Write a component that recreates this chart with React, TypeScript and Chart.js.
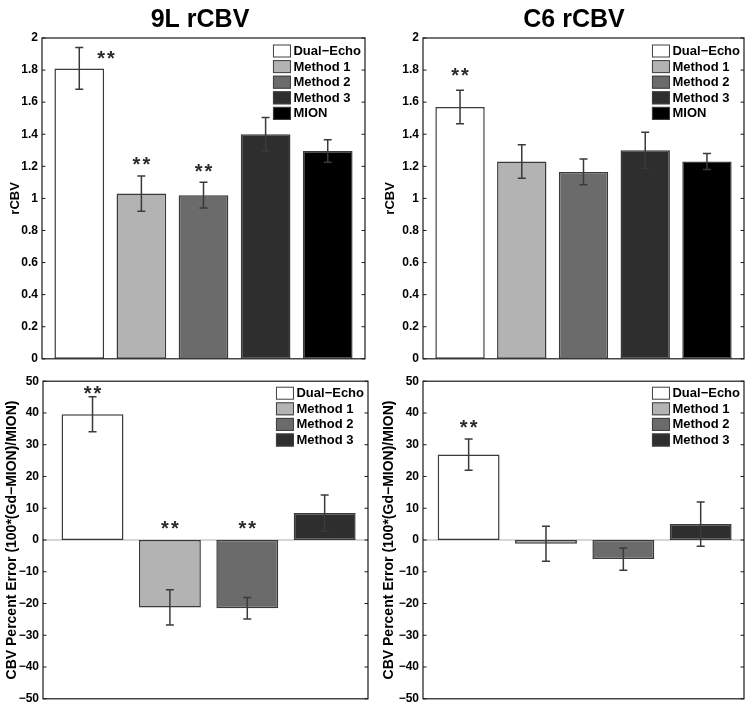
import React, { useEffect, useRef } from "react";
import { Chart, registerables } from "chart.js";

Chart.register(...registerables);

// ---------------- data ----------------
const methodLabels = ["Dual−Echo", "Method 1", "Method 2", "Method 3", "MION"];
const methodColors = ["#ffffff", "#b3b3b3", "#6b6b6b", "#2e2e2e", "#000000"];

// rCBV, 9L tumours
const rcbv9L = [1.81, 1.03, 1.02, 1.4, 1.295];
const rcbv9LErr = [0.13, 0.11, 0.08, 0.105, 0.07];
// rCBV, C6 tumours
const rcbvC6 = [1.57, 1.23, 1.165, 1.3, 1.23];
const rcbvC6Err = [0.105, 0.105, 0.08, 0.113, 0.05];
// CBV percent error vs MION, 9L
const pctErr9L = [39.6, -21.25, -21.5, 8.5];
const pctErr9LErr = [5.5, 5.55, 3.4, 5.65];
// CBV percent error vs MION, C6
const pctErrC6 = [26.9, -1.2, -6.0, 5.0];
const pctErrC6Err = [4.9, 5.5, 3.5, 7.0];

// significance markers "**" (x in bar index units, y in value units)
const star9LX = [1.43, 2, 3];
const star9LY = [1.905, 1.24, 1.2];
const starC6X = [1];
const starC6Y = [1.797];
const starPct9LX = [1, 2, 3];
const starPct9LY = [47.8, 5.05, 5.05];
const starPctC6X = [1];
const starPctC6Y = [36.9];

// axis ranges / ticks
const rcbvAxis = { min: 0, max: 2, step: 0.2 };
const pctAxis = { min: -50, max: 50, step: 10 };

const FONT = '"Liberation Sans", Arial, Helvetica, sans-serif';

function fmtTick(v: number) {
  const s = String(Number(Number(v).toFixed(4)));
  return s.replace("-", "\u2212");
}

type PanelProps = {
  left: number;
  top: number;
  width: number;
  height: number;
  title?: string;
  titleX?: number;
  values: number[];
  errors: number[];
  labels: string[];
  colors: string[];
  axis: { min: number; max: number; step: number };
  yTitle: string;
  yTitleSize: number;
  yTitlePad: number;
  axisWidth: number;
  padding: { left: number; top: number; right: number; bottom: number };
  xMin: number;
  xMax: number;
  starX: number[];
  starY: number[];
  zeroLine: boolean;
  legendTop: number;
};

function Panel(p: PanelProps) {
  const ref = useRef<HTMLCanvasElement>(null);
  useEffect(() => {
    if (!ref.current) return;
    const datasets = p.values.map((v, i) => ({
      label: p.labels[i],
      data: [{ x: i + 1, y: v }],
      backgroundColor: p.colors[i],
      borderColor: "#3a3a3a",
      borderWidth: 1.5,
      borderSkipped: false,
      grouped: false,
      barPercentage: 0.8,
      categoryPercentage: 1,
    }));

    const line = (ctx: CanvasRenderingContext2D, x1: number, y1: number, x2: number, y2: number) => {
      ctx.beginPath();
      ctx.moveTo(x1, y1);
      ctx.lineTo(x2, y2);
      ctx.stroke();
    };

    const overlay = {
      id: "overlay",
      beforeDatasetsDraw(chart: any) {
        if (!p.zeroLine) return;
        const { ctx, chartArea: a, scales } = chart;
        const py = scales.y.getPixelForValue(0);
        ctx.save();
        ctx.strokeStyle = "#c8c8c8";
        ctx.lineWidth = 1.5;
        line(ctx, a.left, py, a.right, py);
        ctx.restore();
      },
      afterDatasetsDraw(chart: any) {
        const { ctx, chartArea: a, scales } = chart;
        const x = scales.x;
        const y = scales.y;
        ctx.save();
        // error bars
        ctx.strokeStyle = "#3a3a3a";
        ctx.lineWidth = 1.5;
        p.values.forEach((v, i) => {
          const px = x.getPixelForValue(i + 1);
          const hi = y.getPixelForValue(v + p.errors[i]);
          const lo = y.getPixelForValue(v - p.errors[i]);
          ctx.beginPath();
          ctx.moveTo(px, hi);
          ctx.lineTo(px, lo);
          ctx.moveTo(px - 4, hi);
          ctx.lineTo(px + 4, hi);
          ctx.moveTo(px - 4, lo);
          ctx.lineTo(px + 4, lo);
          ctx.stroke();
        });
        // significance stars
        ctx.fillStyle = "#2a2a2a";
        ctx.font = `bold 20px ${FONT}`;
        ctx.textAlign = "center";
        ctx.textBaseline = "alphabetic";
        try {
          (ctx as any).letterSpacing = "2px";
        } catch (e) {}
        p.starX.forEach((sx, i) => {
          ctx.fillText("**", x.getPixelForValue(sx) + 1, y.getPixelForValue(p.starY[i]) + 11.5);
        });
        try {
          (ctx as any).letterSpacing = "0px";
        } catch (e) {}
        // axes box
        ctx.strokeStyle = "#1a1a1a";
        ctx.lineWidth = 1.2;
        ctx.strokeRect(a.left, a.top, a.right - a.left, a.bottom - a.top);
        // inward tick marks on left and right
        ctx.lineWidth = 1;
        y.ticks.forEach((_t: any, i: number) => {
          const py = y.getPixelForTick(i);
          line(ctx, a.left, py, a.left + 3.5, py);
          line(ctx, a.right - 3.5, py, a.right, py);
        });
        // legend (inside, top-right)
        ctx.font = `bold 13px ${FONT}`;
        const dsets = chart.data.datasets;
        const maxW = Math.max(...dsets.map((d: any) => ctx.measureText(d.label).width));
        const textX = a.right - 4 - maxW;
        const swR = textX - 2.5;
        const swL = swR - 18;
        dsets.forEach((d: any, i: number) => {
          const cy = a.top + p.legendTop + i * 15.6;
          ctx.fillStyle = d.backgroundColor;
          ctx.fillRect(swL, cy - 6.5, 18, 13);
          ctx.strokeStyle = "#404040";
          ctx.lineWidth = 1;
          ctx.strokeRect(swL + 0.5, cy - 6, 17, 12);
          ctx.fillStyle = "#000000";
          ctx.textAlign = "left";
          ctx.textBaseline = "middle";
          ctx.fillText(d.label, textX, cy + 0.5);
        });
        // panel title
        if (p.title) {
          ctx.font = `bold 25px ${FONT}`;
          ctx.fillStyle = "#000000";
          ctx.textAlign = "center";
          ctx.textBaseline = "alphabetic";
          ctx.fillText(p.title, p.titleX ?? (a.left + a.right) / 2, 27);
        }
        ctx.restore();
      },
    };

    const chart = new Chart(ref.current, {
      type: "bar",
      data: { datasets: datasets as any },
      options: {
        animation: false,
        responsive: false,
        maintainAspectRatio: false,
        layout: { padding: p.padding },
        plugins: {
          legend: { display: false },
          title: { display: false },
          tooltip: { enabled: false },
        },
        scales: {
          x: {
            type: "linear",
            min: p.xMin,
            max: p.xMax,
            offset: false,
            display: false,
            afterBuildTicks: (s: any) => {
              s.ticks = p.values.map((_v, i) => ({ value: i + 1 }));
            },
          },
          y: {
            type: "linear",
            min: p.axis.min,
            max: p.axis.max,
            grid: { display: false, drawTicks: false },
            border: { display: false },
            ticks: {
              stepSize: p.axis.step,
              padding: 4,
              color: "#000000",
              font: { family: FONT, size: 12, weight: "bold" },
              callback: (v: any) => fmtTick(v),
            },
            title: {
              display: true,
              text: p.yTitle,
              color: "#000000",
              font: { family: FONT, size: p.yTitleSize, weight: "bold" },
              padding: { top: p.yTitlePad, bottom: 0 },
            },
            afterFit: (s: any) => {
              s.width = p.axisWidth;
            },
          },
        },
      } as any,
      plugins: [overlay],
    });
    return () => chart.destroy();
  }, []);
  return (
    <canvas
      ref={ref}
      width={p.width}
      height={p.height}
      style={{ position: "absolute", left: p.left, top: p.top, width: p.width, height: p.height }}
    />
  );
}

export default function App() {
  const pctLabels = methodLabels.slice(0, 4);
  const pctColors = methodColors.slice(0, 4);
  const pctTitle = "CBV Percent Error (100*(Gd\u2212MION)/MION)";
  return (
    <div style={{ position: "fixed", left: 0, top: 0, width: 750, height: 710, background: "#ffffff", overflow: "hidden" }}>
      <Panel
        left={0}
        top={0}
        width={375}
        height={370}
        title="9L rCBV"
        titleX={200}
        values={rcbv9L}
        errors={rcbv9LErr}
        labels={methodLabels}
        colors={methodColors}
        axis={rcbvAxis}
        yTitle="rCBV"
        yTitleSize={13}
        yTitlePad={7.2}
        axisWidth={42}
        padding={{ left: 0, top: 38, right: 10, bottom: 10 }}
        xMin={0.4}
        xMax={5.6}
        starX={star9LX}
        starY={star9LY}
        zeroLine={false}
        legendTop={13}
      />
      <Panel
        left={375}
        top={0}
        width={375}
        height={370}
        title="C6 rCBV"
        titleX={199}
        values={rcbvC6}
        errors={rcbvC6Err}
        labels={methodLabels}
        colors={methodColors}
        axis={rcbvAxis}
        yTitle="rCBV"
        yTitleSize={13}
        yTitlePad={7.2}
        axisWidth={48}
        padding={{ left: 0, top: 38, right: 6, bottom: 10 }}
        xMin={0.4}
        xMax={5.6}
        starX={starC6X}
        starY={starC6Y}
        zeroLine={false}
        legendTop={13}
      />
      <Panel
        left={0}
        top={370}
        width={375}
        height={340}
        values={pctErr9L}
        errors={pctErr9LErr}
        labels={pctLabels}
        colors={pctColors}
        axis={pctAxis}
        yTitle={pctTitle}
        yTitleSize={14}
        yTitlePad={3.6}
        axisWidth={43}
        padding={{ left: 0, top: 9, right: 7, bottom: 10 }}
        xMin={0.36}
        xMax={4.56}
        starX={starPct9LX}
        starY={starPct9LY}
        zeroLine={true}
        legendTop={12}
      />
      <Panel
        left={375}
        top={370}
        width={375}
        height={340}
        values={pctErrC6}
        errors={pctErrC6Err}
        labels={pctLabels}
        colors={pctColors}
        axis={pctAxis}
        yTitle={pctTitle}
        yTitleSize={14}
        yTitlePad={5.6}
        axisWidth={48}
        padding={{ left: 0, top: 9, right: 6, bottom: 10 }}
        xMin={0.41}
        xMax={4.56}
        starX={starPctC6X}
        starY={starPctC6Y}
        zeroLine={true}
        legendTop={12}
      />
    </div>
  );
}
